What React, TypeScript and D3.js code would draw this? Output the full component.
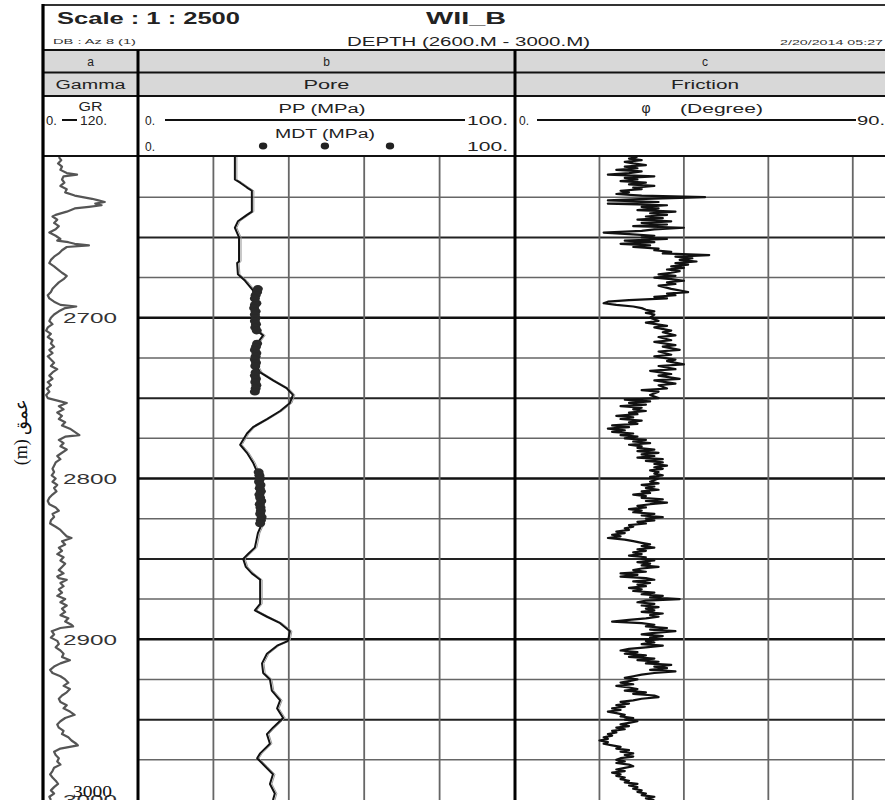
import * as d3 from 'd3';
import React from 'react';

// depth (m), GR (API)
const grLog: [number, number][] = [
  [2600, 20], [2602, 23], [2604, 19], [2606, 24], [2608, 22], [2610, 30], [2611, 43], [2612, 26],
  [2614, 24], [2616, 27], [2618, 22], [2620, 30], [2622, 28], [2624, 40], [2626, 62], [2627, 70],
  [2628, 78], [2629, 66], [2630, 74], [2631, 58], [2632, 40], [2634, 30], [2636, 16], [2637, 12],
  [2639, 18], [2641, 14], [2643, 20], [2645, 16], [2647, 8], [2649, 16], [2651, 22], [2652, 18],
  [2653, 32], [2654, 40], [2655, 58], [2656, 30], [2658, 24], [2660, 20], [2662, 14], [2664, 10],
  [2666, 8], [2668, 14], [2670, 19], [2672, 24], [2674, 30], [2676, 26], [2678, 20], [2680, 16],
  [2682, 12], [2684, 10], [2686, 6], [2688, 8], [2690, 14], [2692, 22], [2693, 42], [2694, 28],
  [2696, 20], [2698, 14], [2700, 10], [2702, 8], [2704, 12], [2706, 6], [2708, 4], [2710, 10],
  [2712, 6], [2714, 12], [2716, 10], [2718, 14], [2720, 8], [2722, 12], [2724, 6], [2726, 10],
  [2728, 14], [2730, 10], [2732, 18], [2734, 12], [2736, 8], [2738, 12], [2740, 6], [2742, 10],
  [2744, 5], [2746, 8], [2748, 4], [2750, 6], [2752, 22], [2753, 30], [2755, 20], [2757, 26],
  [2759, 18], [2761, 24], [2763, 20], [2765, 28], [2767, 24], [2769, 34], [2771, 40], [2773, 46],
  [2774, 28], [2776, 20], [2778, 26], [2780, 22], [2782, 30], [2784, 24], [2786, 18], [2788, 22],
  [2790, 16], [2792, 14], [2794, 12], [2796, 14], [2798, 11], [2800, 16], [2802, 12], [2804, 18],
  [2806, 14], [2808, 17], [2810, 12], [2812, 8], [2814, 6], [2816, 8], [2818, 16], [2820, 20],
  [2822, 12], [2824, 14], [2826, 10], [2828, 9], [2830, 16], [2832, 22], [2834, 26], [2836, 30],
  [2837, 36], [2839, 24], [2841, 28], [2843, 20], [2845, 24], [2847, 18], [2849, 26], [2851, 22],
  [2853, 28], [2855, 24], [2857, 20], [2859, 26], [2861, 18], [2862, 20], [2863, 30], [2865, 22],
  [2867, 26], [2869, 20], [2871, 24], [2873, 18], [2875, 28], [2877, 22], [2879, 30], [2881, 24],
  [2883, 28], [2885, 22], [2887, 32], [2889, 28], [2891, 36], [2892, 38], [2893, 22], [2895, 11],
  [2897, 14], [2899, 10], [2901, 18], [2903, 20], [2905, 16], [2907, 22], [2909, 26], [2911, 24],
  [2913, 34], [2915, 22], [2917, 14], [2919, 9], [2921, 12], [2923, 22], [2925, 28], [2927, 32],
  [2929, 26], [2931, 34], [2933, 30], [2935, 24], [2937, 20], [2939, 22], [2941, 30], [2943, 26],
  [2945, 34], [2947, 40], [2949, 28], [2951, 22], [2953, 18], [2955, 20], [2957, 26], [2959, 24],
  [2961, 32], [2963, 36], [2965, 42], [2966, 44], [2968, 22], [2970, 14], [2972, 16], [2974, 20],
  [2976, 18], [2978, 22], [2980, 14], [2982, 12], [2984, 9], [2986, 12], [2988, 16], [2990, 19],
  [2992, 14], [2994, 10], [2996, 14], [2998, 8], [3000, 10],
];

// depth (m), pore pressure (MPa)
const ppLog: [number, number][] = [
  [2600, 25.7], [2614, 25.7], [2616, 27.1], [2619, 28.9], [2621, 30.2], [2634, 30.2], [2636, 28.9],
  [2640, 26.5], [2644, 25.7], [2650, 26.8], [2665, 26.8], [2666, 26.3], [2673, 26.5], [2677, 28.4],
  [2683, 30.5], [2687, 31.0], [2700, 31.0], [2708, 31.6], [2711, 33.2], [2716, 31.6], [2728, 31.0],
  [2734, 32.4], [2739, 35.8], [2744, 39.5], [2748, 41.1], [2753, 40.3], [2758, 37.7], [2763, 34.2],
  [2768, 30.5], [2772, 28.9], [2779, 27.1], [2784, 28.9], [2790, 30.5], [2797, 31.8], [2806, 31.8],
  [2828, 32.9], [2834, 31.8], [2843, 31.0], [2847, 29.2], [2850, 27.9], [2855, 28.6], [2859, 30.2],
  [2863, 32.4], [2878, 32.4], [2882, 31.0], [2886, 34.2], [2890, 37.7], [2895, 40.3], [2901, 39.8],
  [2904, 36.9], [2909, 34.2], [2915, 32.9], [2921, 33.2], [2925, 35.0], [2932, 35.5], [2938, 37.7],
  [2943, 36.9], [2949, 38.5], [2955, 35.8], [2959, 34.2], [2965, 35.0], [2971, 32.4], [2974, 31.6],
  [2979, 33.7], [2984, 35.8], [2990, 35.0], [2996, 36.3], [3000, 35.8],
];

// depth (m), MDT pressure (MPa)
const mdtPoints: [number, number][] = [
  [2682, 31.8], [2684, 31.6], [2686, 31.2], [2688, 31.0], [2691, 31.4], [2692, 31.0], [2694, 30.8],
  [2696, 31.2], [2698, 31.0], [2700, 31.2], [2702, 31.0], [2704, 31.3], [2706, 31.1], [2708, 31.5],
  [2716, 31.6], [2718, 31.3], [2720, 31.0], [2722, 31.4], [2724, 31.2], [2726, 31.0], [2728, 31.3],
  [2730, 31.1], [2734, 31.2], [2736, 31.0], [2738, 31.3], [2740, 31.1], [2742, 31.4], [2744, 31.2],
  [2746, 31.0], [2796, 32.0], [2798, 32.2], [2800, 32.4], [2802, 32.1], [2804, 32.5], [2806, 32.3],
  [2808, 32.6], [2810, 32.2], [2812, 32.4], [2814, 32.7], [2816, 32.3], [2818, 32.5], [2820, 32.6],
  [2822, 32.4], [2824, 32.8], [2826, 32.6], [2828, 32.4],
];

// depth (m), friction angle (degree)
const frictionLog: [number, number][] = [
  [2600, 29], [2601, 27], [2602, 30], [2603, 26], [2604, 28], [2605, 31], [2606, 26], [2607, 29],
  [2608, 24], [2609, 30], [2610, 27], [2611, 22], [2612, 33], [2613, 26], [2614, 29], [2615, 25],
  [2616, 31], [2617, 27], [2618, 33], [2619, 28], [2620, 30], [2621, 25], [2622, 27], [2623, 24],
  [2624, 30], [2625, 45], [2626, 31], [2627, 22], [2628, 34], [2629, 22], [2630, 36], [2631, 30],
  [2632, 34], [2633, 29], [2634, 38], [2635, 32], [2636, 36], [2637, 31], [2638, 35], [2639, 29],
  [2640, 37], [2641, 30], [2642, 36], [2643, 28], [2644, 40], [2645, 33], [2646, 30], [2647, 21],
  [2648, 27], [2649, 33], [2650, 30], [2651, 36], [2652, 26], [2653, 33], [2654, 25], [2655, 32],
  [2656, 28], [2657, 34], [2658, 33], [2659, 37], [2660, 35], [2661, 46], [2662, 38], [2663, 42],
  [2664, 39], [2665, 43], [2666, 38], [2667, 41], [2668, 37], [2669, 40], [2670, 36], [2671, 39],
  [2672, 37], [2673, 34], [2674, 38], [2675, 33], [2676, 37], [2677, 40], [2678, 36], [2679, 38],
  [2680, 34], [2682, 37], [2684, 41], [2685, 36], [2686, 38], [2687, 33], [2688, 36], [2689, 27],
  [2690, 22], [2691, 21], [2692, 24], [2693, 28], [2694, 30], [2695, 31], [2696, 33], [2697, 31],
  [2698, 33], [2700, 32], [2702, 34], [2703, 31], [2705, 36], [2706, 33], [2708, 37], [2709, 35],
  [2711, 38], [2712, 34], [2714, 37], [2715, 33], [2717, 38], [2718, 35], [2720, 39], [2721, 34],
  [2723, 37], [2724, 33], [2726, 38], [2727, 36], [2729, 40], [2730, 34], [2732, 38], [2733, 32],
  [2735, 37], [2736, 34], [2738, 39], [2739, 33], [2741, 38], [2742, 34], [2744, 36], [2745, 30],
  [2746, 34], [2748, 32], [2750, 34], [2751, 26], [2752, 32], [2753, 27], [2754, 31], [2755, 25],
  [2756, 30], [2757, 28], [2758, 31], [2759, 27], [2760, 29], [2761, 24], [2762, 28], [2763, 25],
  [2764, 30], [2765, 27], [2766, 29], [2767, 23], [2768, 27], [2769, 22], [2770, 26], [2771, 23],
  [2772, 28], [2773, 25], [2774, 29], [2775, 26], [2776, 31], [2777, 28], [2778, 32], [2779, 27],
  [2780, 30], [2781, 29], [2782, 33], [2783, 29], [2784, 34], [2785, 30], [2786, 33], [2787, 29],
  [2788, 35], [2789, 31], [2790, 35], [2791, 33], [2792, 36], [2793, 33], [2794, 35], [2795, 32],
  [2796, 34], [2797, 33], [2798, 35], [2799, 32], [2800, 34], [2802, 32], [2803, 34], [2804, 30],
  [2805, 33], [2806, 31], [2807, 34], [2808, 30], [2809, 32], [2810, 28], [2811, 31], [2812, 30],
  [2813, 35], [2814, 31], [2815, 36], [2816, 32], [2817, 29], [2818, 31], [2819, 27], [2820, 30],
  [2821, 28], [2822, 33], [2823, 30], [2824, 35], [2825, 31], [2826, 33], [2827, 29], [2828, 31],
  [2829, 27], [2830, 28], [2831, 26], [2832, 27], [2833, 24], [2834, 26], [2835, 23], [2836, 25],
  [2837, 22], [2838, 26], [2839, 28], [2840, 30], [2841, 32], [2842, 30], [2843, 33], [2844, 29],
  [2845, 31], [2846, 28], [2847, 30], [2848, 27], [2849, 31], [2850, 30], [2851, 33], [2852, 29],
  [2853, 32], [2854, 30], [2855, 34], [2856, 30], [2857, 28], [2858, 31], [2859, 25], [2860, 29],
  [2861, 25], [2862, 31], [2863, 33], [2864, 28], [2865, 32], [2866, 29], [2867, 31], [2868, 27],
  [2869, 30], [2870, 28], [2871, 33], [2872, 30], [2873, 35], [2874, 32], [2875, 39], [2876, 31],
  [2877, 29], [2878, 33], [2879, 30], [2880, 34], [2881, 31], [2882, 33], [2883, 30], [2884, 35],
  [2885, 32], [2886, 34], [2887, 31], [2888, 27], [2889, 23], [2890, 30], [2891, 33], [2892, 31],
  [2893, 36], [2894, 32], [2895, 38], [2896, 33], [2897, 30], [2898, 35], [2899, 32], [2900, 34],
  [2901, 31], [2902, 33], [2903, 30], [2904, 35], [2905, 31], [2906, 27], [2907, 25], [2908, 29],
  [2909, 26], [2910, 31], [2911, 27], [2912, 33], [2913, 29], [2914, 34], [2915, 31], [2916, 37],
  [2917, 33], [2918, 36], [2919, 32], [2920, 38], [2921, 33], [2922, 30], [2923, 28], [2924, 26],
  [2925, 29], [2926, 27], [2927, 25], [2928, 28], [2929, 24], [2930, 27], [2931, 29], [2932, 26],
  [2933, 31], [2934, 28], [2935, 33], [2936, 34], [2937, 30], [2938, 28], [2939, 25], [2940, 27],
  [2941, 24], [2942, 26], [2943, 23], [2944, 25], [2945, 22], [2946, 24], [2947, 26], [2948, 25],
  [2949, 28], [2950, 26], [2951, 29], [2952, 27], [2953, 25], [2954, 27], [2955, 24], [2956, 26],
  [2957, 23], [2958, 24], [2959, 22], [2960, 23], [2961, 21], [2962, 22], [2963, 20], [2964, 22],
  [2965, 21], [2966, 23], [2967, 25], [2968, 24], [2969, 27], [2970, 25], [2971, 28], [2972, 26],
  [2973, 28], [2974, 25], [2975, 24], [2976, 26], [2977, 24], [2978, 27], [2979, 28], [2980, 26],
  [2981, 24], [2982, 26], [2983, 23], [2984, 25], [2985, 24], [2986, 26], [2987, 25], [2988, 27],
  [2989, 26], [2990, 29], [2991, 27], [2992, 29], [2993, 28], [2994, 30], [2995, 29], [2996, 31],
  [2997, 30], [2998, 33], [2999, 31], [3000, 33],
];

const depthLabels = [2700, 2800, 2900, 3000];

const W = 885;
const H = 800;
const SANS = 'Liberation Sans, Arial, sans-serif';
const SERIF = 'Liberation Serif, Times New Roman, serif';

export default function App() {
  const top = 157;
  const left = 43;
  const colA = 138;
  const colB = 515;
  const colC = 895;

  const y = d3.scaleLinear().domain([2600, 3000]).range([top, 800]);
  const grX = d3.scaleLinear().domain([0, 120]).range([left, colA]);
  const ppX = d3.scaleLinear().domain([0, 100]).range([colA, colB]);
  const phiX = d3.scaleLinear().domain([0, 90]).range([colB, colC]);

  const lineOf = (sx: d3.ScaleLinear<number, number>) =>
    d3.line<[number, number]>().x((d) => sx(d[1])).y((d) => y(d[0]));

  const gridDepths = d3.range(2625, 3000, 25);
  const hStyle = (d: number) =>
    d % 100 === 0 ? { s: '#111', w: 2.6 } : d % 50 === 0 ? { s: '#222', w: 2 } : { s: '#666', w: 1.5 };

  return (
    <div style={{ position: 'absolute', left: 0, top: 0 }}>
      <svg width={W} height={H} style={{ display: 'block', background: '#fff' }}>
        <defs>
          <clipPath id="plot">
            <rect x={left} y={top} width={W - left} height={H - top} />
          </clipPath>
        </defs>

        {/* header bands */}
        <rect x={left} y={50} width={W - left} height={22} fill="#d8d8d8" />
        <rect x={left} y={73} width={W - left} height={23} fill="#d8d8d8" />

        {/* header texts */}
        <text x={57} y={24} fontFamily={SANS} fontWeight="bold" fontSize={17} textLength={183} lengthAdjust="spacingAndGlyphs" fill="#222">
          Scale : 1 : 2500
        </text>
        <text x={53} y={44} fontFamily={SANS} fontSize={8} textLength={83} lengthAdjust="spacingAndGlyphs" fill="#333">
          DB : Az 8 (1)
        </text>
        <text x={426} y={24} fontFamily={SANS} fontWeight="bold" fontSize={17} textLength={80} lengthAdjust="spacingAndGlyphs" fill="#222">
          WII_B
        </text>
        <text x={347} y={46} fontFamily={SANS} fontSize={12} textLength={243} lengthAdjust="spacingAndGlyphs" fill="#222">
          DEPTH (2600.M - 3000.M)
        </text>
        <text x={780} y={45} fontFamily={SANS} fontSize={8} textLength={103} lengthAdjust="spacingAndGlyphs" fill="#333">
          2/20/2014 05:27
        </text>

        <g fontFamily={SANS} fontSize={12} fill="#222" textAnchor="middle">
          <text x={(left + colA) / 2} y={66}>a</text>
          <text x={(colA + colB) / 2} y={66}>b</text>
          <text x={(colB + colC) / 2} y={66}>c</text>
          <text x={(left + colA) / 2} y={89} textLength={70} lengthAdjust="spacingAndGlyphs">Gamma</text>
          <text x={(colA + colB) / 2} y={89} textLength={46} lengthAdjust="spacingAndGlyphs">Pore</text>
          <text x={(colB + colC) / 2} y={89} textLength={68} lengthAdjust="spacingAndGlyphs" fontSize={13}>Friction</text>
        </g>

        {/* scale row: track a */}
        <g fontFamily={SANS} fontSize={12} fill="#222">
          <text x={(left + colA) / 2} y={111} textAnchor="middle" textLength={24} lengthAdjust="spacingAndGlyphs">GR</text>
          <text x={46} y={125} fontSize={13}>0.</text>
          <line x1={62} x2={77} y1={120} y2={120} stroke="#111" strokeWidth={2} />
          <text x={80} y={125} fontSize={13} textLength={27} lengthAdjust="spacingAndGlyphs">120.</text>

          {/* track b */}
          <text x={322} y={113} textAnchor="middle" textLength={87} lengthAdjust="spacingAndGlyphs">PP (MPa)</text>
          <text x={145} y={125}>0.</text>
          <line x1={165} x2={465} y1={120} y2={120} stroke="#111" strokeWidth={2} />
          <text x={467} y={125} textLength={41} lengthAdjust="spacingAndGlyphs">100.</text>
          <text x={325} y={138} textAnchor="middle" textLength={100} lengthAdjust="spacingAndGlyphs">MDT (MPa)</text>
          <text x={145} y={151}>0.</text>
          {[0.327, 0.533, 0.75].map((f) => (
            <ellipse key={f} cx={165 + f * 300} cy={146} rx={4.2} ry={3.4} fill="#222" />
          ))}
          <text x={467} y={151} textLength={41} lengthAdjust="spacingAndGlyphs">100.</text>

          {/* track c */}
          <text x={646} y={113} textAnchor="middle" fontSize={14}>φ</text>
          <text x={680} y={113} textLength={83} lengthAdjust="spacingAndGlyphs">(Degree)</text>
          <text x={519} y={125}>0.</text>
          <line x1={537} x2={856} y1={120} y2={120} stroke="#111" strokeWidth={2} />
          <text x={857} y={125} textLength={28} lengthAdjust="spacingAndGlyphs">90.</text>
        </g>

        {/* grid in tracks b and c */}
        <g clipPath="url(#plot)">
          {gridDepths.map((d) => {
            const st = hStyle(d);
            return <line key={d} x1={colA} x2={W} y1={y(d)} y2={y(d)} stroke={st.s} strokeWidth={st.w} />;
          })}
          {ppX.ticks(5).filter((t) => t > 0 && t < 100).map((t) => (
            <line key={'b' + t} x1={ppX(t)} x2={ppX(t)} y1={top} y2={H} stroke="#666" strokeWidth={1.8} />
          ))}
          {phiX.ticks(5).filter((t) => t > 0 && t < 90).map((t) => (
            <line key={'c' + t} x1={phiX(t)} x2={phiX(t)} y1={top} y2={H} stroke="#666" strokeWidth={1.8} />
          ))}

          {/* curves */}
          <path d={lineOf(grX)(grLog) || ''} fill="none" stroke="#555" strokeWidth={2.2} strokeLinejoin="round" />
          <path d={lineOf(ppX)(ppLog) || ''} fill="none" stroke="#999" strokeWidth={1} transform="translate(2,0)" />
          <path d={lineOf(ppX)(ppLog) || ''} fill="none" stroke="#111" strokeWidth={2} strokeLinejoin="round" />
          {mdtPoints.map(([d, v]) => (
            <ellipse key={d} cx={ppX(v)} cy={y(d)} rx={5} ry={3.8} fill="#2a2a2a" />
          ))}
          <path d={lineOf(phiX)(frictionLog) || ''} fill="none" stroke="#111" strokeWidth={2.2} strokeLinejoin="round" />

          {/* depth labels */}
          {depthLabels.map((d) => (
            <text key={d} x={63} y={y(d)} dy="0.35em" fontFamily={SANS} fontSize={15} fill="#333" textLength={54} lengthAdjust="spacingAndGlyphs">
              {d}
            </text>
          ))}
          <text x={73} y={797} fontFamily={SERIF} fontSize={16} fill="#111" textLength={39} lengthAdjust="spacingAndGlyphs">
            3000
          </text>
        </g>

        {/* frame lines */}
        <line x1={left} x2={W} y1={5} y2={5} stroke="#333" strokeWidth={2} />
        {[50, 72.5, 96, 156].map((yy) => (
          <line key={yy} x1={left} x2={W} y1={yy} y2={yy} stroke="#111" strokeWidth={2.2} />
        ))}
        <line x1={left} x2={left} y1={4} y2={H} stroke="#000" strokeWidth={3.2} />
        <line x1={colA} x2={colA} y1={50} y2={H} stroke="#000" strokeWidth={3} />
        <line x1={colB} x2={colB} y1={50} y2={H} stroke="#000" strokeWidth={3} />

        {/* depth axis title */}
        <text transform="translate(27,432) rotate(-90)" textAnchor="middle" fontFamily={SERIF} fontSize={18} fill="#111">
          (m) عمق
        </text>
      </svg>
    </div>
  );
}
